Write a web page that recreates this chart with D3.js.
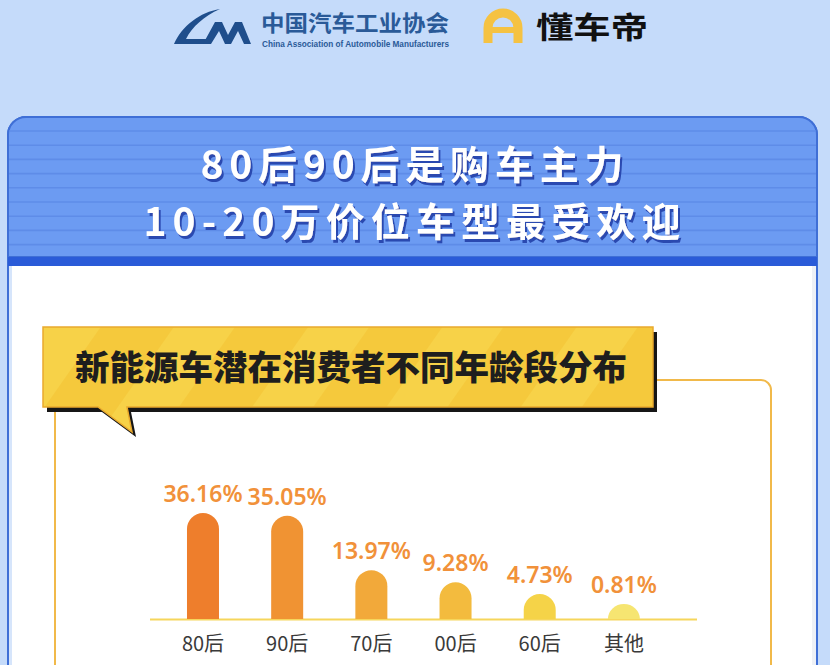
<!DOCTYPE html>
<html>
<head>
<meta charset="utf-8">
<script src="https://cdn.jsdelivr.net/npm/d3@7/dist/d3.min.js"></script>
<style>
  html, body { margin: 0; padding: 0; background: #c5dbfa; }
  svg { display: block; }
</style>
</head>
<body>
<svg id="chart" width="830" height="665"></svg>
<script>
// ---- data ----
const categories = ["80后", "90后", "70后", "00后", "60后", "其他"];
const values = [36.16, 35.05, 13.97, 9.28, 4.73, 0.81];
const valueLabels = ["36.16%", "35.05%", "13.97%", "9.28%", "4.73%", "0.81%"];
const barColors = ["#ee7e2c", "#f09333", "#f2a93a", "#f3bb3e", "#f5d348", "#f6e571"];
const titleLines = ["80后90后是购车主力", "10-20万价位车型最受欢迎"];
const subtitle = "新能源车潜在消费者不同年龄段分布";

const svg = d3.select("#chart");
const cjk = "'Noto Sans CJK SC', 'Noto Sans', sans-serif";

const defs = svg.append("defs");
const pat = defs.append("pattern").attr("id", "stripes").attr("patternUnits", "userSpaceOnUse")
  .attr("width", 110).attr("height", 110).attr("patternTransform", "rotate(35)");
pat.append("rect").attr("width", 110).attr("height", 110).attr("fill", "#f5c93c");
pat.append("rect").attr("x", 0).attr("width", 50).attr("height", 110).attr("fill", "#f7d248");
const f = defs.append("filter").attr("id", "tshadow").attr("x", "-10%").attr("y", "-20%").attr("width", "120%").attr("height", "150%");
f.append("feDropShadow").attr("dx", 2).attr("dy", 3).attr("stdDeviation", 0.3)
  .attr("flood-color", "#2a48b0").attr("flood-opacity", 1);

// ---- logos ----
const logo = svg.append("g");
logo.append("path")
  .attr("d", "M220,9 C200,12 182,26 174,44 L207,44 L209,39 L186,39 C192,27 204,16 220,9 Z")
  .attr("fill", "#1f4e8c");
logo.append("path")
  .attr("d", "M203,44 L215,22 L222,22 L228,35 L235,22 L242,22 L251,44 L244,44 L238,31 L231,44 L225,44 L219,31 L211,44 Z")
  .attr("fill", "#1f4e8c");
logo.append("text").attr("x", 261).attr("y", 31).text("中国汽车工业协会")
  .attr("font-family", cjk).attr("font-weight", 700).attr("font-size", 22)
  .attr("textLength", 188).attr("lengthAdjust", "spacingAndGlyphs")
  .attr("fill", "#2a5a98");
logo.append("text").attr("x", 262).attr("y", 47).text("China Association of Automobile Manufacturers")
  .attr("font-family", "'Liberation Sans', Arial, sans-serif").attr("font-weight", 700).attr("font-size", 8.5)
  .attr("textLength", 187).attr("lengthAdjust", "spacingAndGlyphs")
  .attr("fill", "#2a5a98");
logo.append("path")
  .attr("d", "M488,43 L488,28 A15,15 0 0 1 518,28 L518,43")
  .attr("fill", "none").attr("stroke", "#f5c242").attr("stroke-width", 9);
logo.append("rect").attr("x", 486).attr("y", 27).attr("width", 34).attr("height", 6).attr("fill", "#f5c242");
logo.append("text").attr("x", 536).attr("y", 38).text("懂车帝")
  .attr("font-family", cjk).attr("font-weight", 700).attr("font-size", 30)
  .attr("textLength", 112).attr("lengthAdjust", "spacingAndGlyphs")
  .attr("fill", "#111");

// ---- card ----
const cardX = 8, cardY = 117, cardW = 809, cardH = 620, rr = 18;
svg.append("rect").attr("x", cardX).attr("y", cardY).attr("width", cardW).attr("height", cardH)
  .attr("rx", rr).attr("fill", "#ffffff").attr("stroke", "#3f6fd6").attr("stroke-width", 2);
const headerH = 140;
svg.append("path")
  .attr("d", `M${cardX},${cardY + headerH} V${cardY + rr} A${rr},${rr} 0 0 1 ${cardX + rr},${cardY} H${cardX + cardW - rr} A${rr},${rr} 0 0 1 ${cardX + cardW},${cardY + rr} V${cardY + headerH} Z`)
  .attr("fill", "#6c9bf2").attr("stroke", "#3f6fd6").attr("stroke-width", 2);
const stripeYs = d3.range(cardY + 14, cardY + headerH, 14.2);
svg.append("g").selectAll("line").data(stripeYs).join("line")
  .attr("x1", cardX + 1).attr("x2", cardX + cardW - 1)
  .attr("y1", d => d).attr("y2", d => d)
  .attr("stroke", "#5e8ce8").attr("stroke-width", 1.6);
svg.append("rect").attr("x", cardX).attr("y", cardY + headerH).attr("width", cardW).attr("height", 9)
  .attr("fill", "#2a5bd8");
svg.append("rect").attr("x", cardX + 1).attr("y", cardY + headerH + 9).attr("width", 3).attr("height", 400).attr("fill", "#d6e5fb");
svg.append("rect").attr("x", cardX + cardW - 5).attr("y", cardY + headerH + 9).attr("width", 4).attr("height", 400).attr("fill", "#eef1f6");

// title: two lines
const titleY = [179, 236];
const titleLen = [423, 537];
const tg = svg.append("g")
  .attr("font-family", cjk).attr("font-weight", 700).attr("font-size", 39)
  .attr("text-anchor", "middle").attr("fill", "#ffffff")
  .attr("filter", "url(#tshadow)");
titleLines.forEach((t, i) => {
  tg.append("text").attr("x", 412).attr("y", titleY[i]).text(t)
    .attr("textLength", titleLen[i]).attr("lengthAdjust", "spacing");
});

// ---- inner orange frame ----
svg.append("path")
  .attr("d", "M55,412 V700 M650,380 H761 A10,10 0 0 1 771,390 V700")
  .attr("fill", "none").attr("stroke", "#f1b94a").attr("stroke-width", 2);

// ---- speech bubble ----
const bubblePath = "M43,327 H653 V407 H127 L132,432 L98,407 H43 Z";
svg.append("path").attr("d", bubblePath).attr("transform", "translate(4,5)").attr("fill", "#161616");
svg.append("path").attr("d", bubblePath).attr("fill", "url(#stripes)").attr("stroke", "#e9a92e").attr("stroke-width", 1.5);
svg.append("text").attr("x", 351).attr("y", 380).text(subtitle)
  .attr("font-family", cjk).attr("font-weight", 900).attr("font-size", 34.5)
  .attr("text-anchor", "middle").attr("fill", "#1e1e1e");

// ---- bar chart ----
const baseY = 619;
const x = d3.scalePoint().domain(categories).range([160.9, 666]).padding(0.5);
const y = d3.scaleLinear().domain([-5, 36.16]).range([baseY, baseY - 106]);
const barW = 32;

function barPath(cx, top) {
  const h = baseY - top;
  const r = Math.min(barW / 2, h);
  const x0 = cx - barW / 2, x1 = cx + barW / 2;
  return `M${x0},${baseY} V${top + r} A${barW / 2},${r} 0 0 1 ${x1},${top + r} V${baseY} Z`;
}

const data = categories.map((c, i) => ({ c, v: values[i], label: valueLabels[i], color: barColors[i] }));

svg.append("line").attr("x1", 150).attr("x2", 697).attr("y1", baseY + 0.5).attr("y2", baseY + 0.5)
  .attr("stroke", "#f6d65c").attr("stroke-width", 2);

svg.append("g").selectAll("path").data(data).join("path")
  .attr("d", d => barPath(x(d.c), y(d.v)))
  .attr("fill", d => d.color);

svg.append("g").selectAll("text").data(data).join("text")
  .attr("x", d => x(d.c)).attr("y", d => y(d.v) - 11)
  .attr("text-anchor", "middle")
  .attr("font-family", "'Noto Sans', 'Open Sans', sans-serif").attr("font-weight", 600).attr("font-size", 23)
  .attr("fill", "#f1913a")
  .text(d => d.label);

svg.append("g").selectAll("text").data(data).join("text")
  .attr("x", d => x(d.c)).attr("y", 651)
  .attr("text-anchor", "middle")
  .attr("font-family", cjk).attr("font-weight", 400).attr("font-size", 20)
  .attr("fill", "#3a3a3a")
  .text(d => d.c);
</script>
</body>
</html>
